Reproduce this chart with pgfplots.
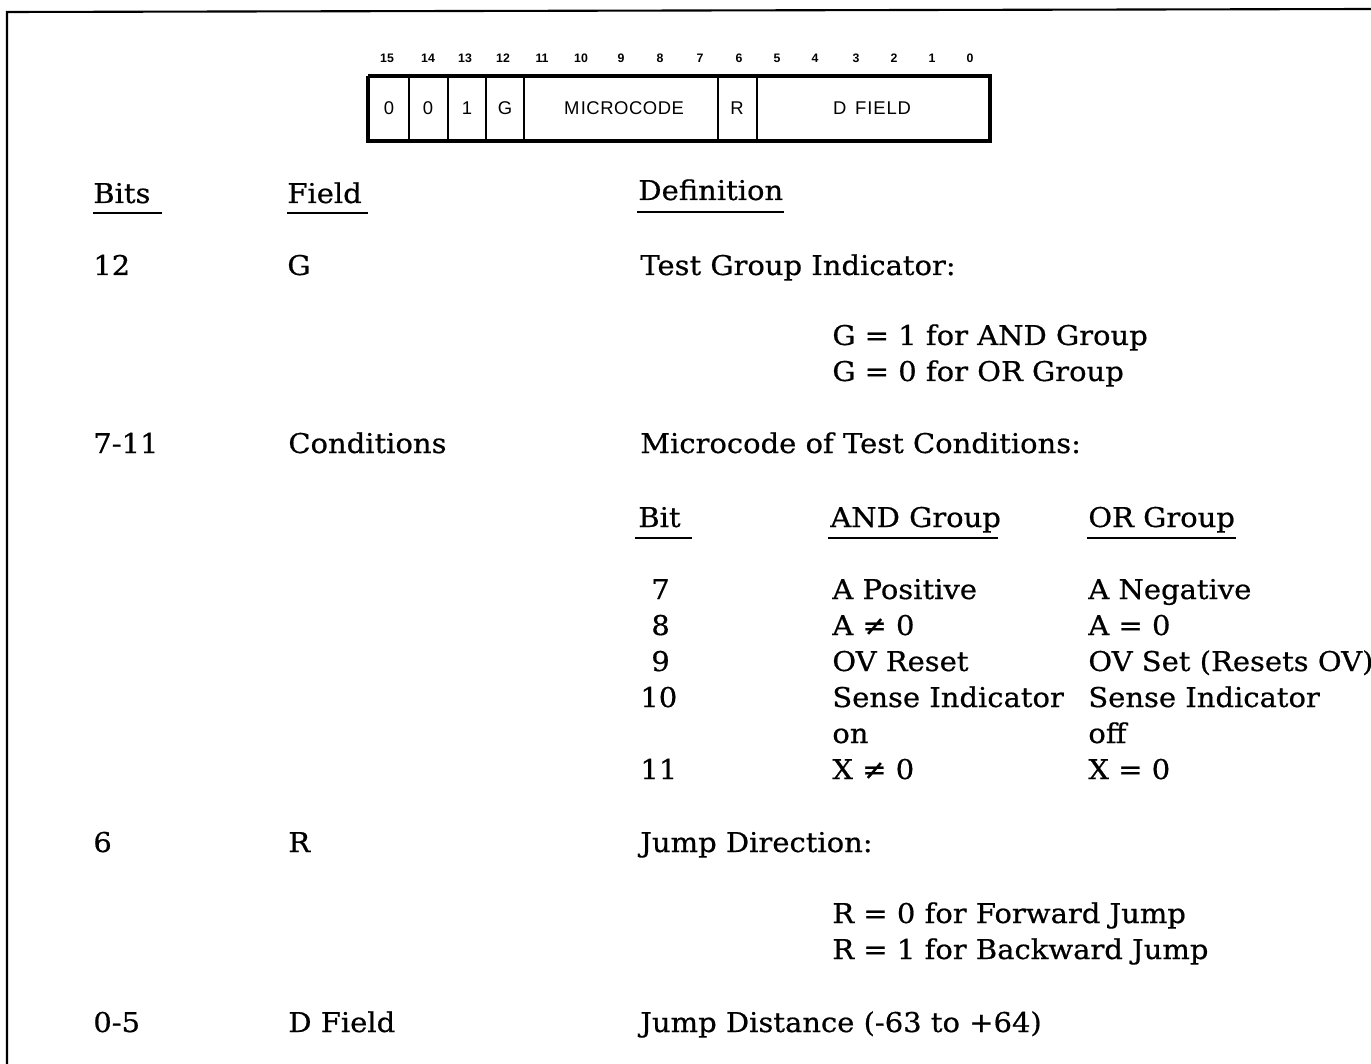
\documentclass[border=0pt]{standalone}
\usepackage{pgfplots}
\pgfplotsset{compat=1.18}
\usepackage{fontspec}
\setmainfont{DejaVu Serif}[FakeStretch=1.065, FakeBold=0.6]
\newfontfamily\boxfont{Liberation Sans}
\begin{document}
\begin{tikzpicture}[font=\fontsize{15.5}{18}\selectfont]
\begin{axis}[scale only axis, width=27.42cm, height=21.28cm,
  xmin=0, xmax=1371, ymin=0, ymax=1064, y dir=reverse, hide axis, clip=false]
% frame
\addplot[black, line width=1.2pt] coordinates {(7,1064) (7,12) (1371,9)};
% register box
\addplot[black, line width=1.8pt] coordinates {(368,76) (990,76) (990,141) (368,141) (368,76)};
\addplot[black, line width=1.1pt] coordinates {(409,76) (409,141)};
\addplot[black, line width=1.1pt] coordinates {(448,76) (448,141)};
\addplot[black, line width=1.1pt] coordinates {(486,76) (486,141)};
\addplot[black, line width=1.7pt] coordinates {(524,76) (524,141)};
\addplot[black, line width=1.1pt] coordinates {(718,76) (718,141)};
\addplot[black, line width=1.1pt] coordinates {(757,76) (757,141)};
% underlines
\addplot[black, line width=1.1pt] coordinates {(93,213) (162,213)};
\addplot[black, line width=1.1pt] coordinates {(287,213) (368,213)};
\addplot[black, line width=1.1pt] coordinates {(637,212) (784,212)};
\addplot[black, line width=1.1pt] coordinates {(635,538) (692,538)};
\addplot[black, line width=1.1pt] coordinates {(828,538) (998,538)};
\addplot[black, line width=1.1pt] coordinates {(1087,538) (1236,538)};
% bit numbers
\begin{scope}[every node/.style={font=\boxfont\bfseries\fontsize{7}{8}\selectfont, inner sep=0}]
\node at (axis cs:387,58) {15};
\node at (axis cs:428,58) {14};
\node at (axis cs:465,58) {13};
\node at (axis cs:503,58) {12};
\node at (axis cs:542,58) {11};
\node at (axis cs:581,58) {10};
\node at (axis cs:621,58) {9};
\node at (axis cs:660,58) {8};
\node at (axis cs:700,58) {7};
\node at (axis cs:739,58) {6};
\node at (axis cs:777,58) {5};
\node at (axis cs:815,58) {4};
\node at (axis cs:856,58) {3};
\node at (axis cs:894,58) {2};
\node at (axis cs:932,58) {1};
\node at (axis cs:970,58) {0};
\end{scope}
\begin{scope}[every node/.style={font=\boxfont\fontsize{10.5}{12}\selectfont, inner sep=0}]
\node at (axis cs:389,108) {0};
\node at (axis cs:428,108) {0};
\node at (axis cs:467,108) {1};
\node at (axis cs:505,108) {G};
\node at (axis cs:624,108) {M\kern.8pt I\kern.3pt C\kern.3pt R\kern.3pt O\kern.3pt C\kern.3pt O\kern.3pt D\kern.3pt E};
\node at (axis cs:737,108) {R};
\node at (axis cs:872,108) {D\hspace{5pt}F\kern.5pt I\kern.5pt E\kern.5pt L\kern.5pt D};
\end{scope}
\begin{scope}[every node/.style={anchor=base west, inner sep=0}]
\node at (axis cs:93,203) {Bits};
\node at (axis cs:287,203) {Field};
\node at (axis cs:638,200) {Definition};
\node at (axis cs:93,275) {12};
\node at (axis cs:287,275) {G};
\node at (axis cs:640,275) {Test Group Indicator:};
\node at (axis cs:832,345) {G = 1 for AND Group};
\node at (axis cs:832,381) {G = 0 for OR Group};
\node at (axis cs:93,453) {7-11};
\node at (axis cs:288,453) {Conditions};
\node at (axis cs:640,453) {Microcode of Test Conditions:};
\node at (axis cs:638,527) {Bit};
\node at (axis cs:830,527) {AND Group};
\node at (axis cs:1088,527) {OR Group};
\node at (axis cs:832,599) {A Positive};
\node at (axis cs:1088,599) {A Negative};
\node at (axis cs:832,635) {A ≠ 0};
\node at (axis cs:1088,635) {A = 0};
\node at (axis cs:832,671) {OV Reset};
\node at (axis cs:1088,671) {OV Set (Resets OV)};
\node at (axis cs:832,707) {Sense Indicator};
\node at (axis cs:1088,707) {Sense Indicator};
\node at (axis cs:832,743) {on};
\node at (axis cs:1088,743) {off};
\node at (axis cs:832,779) {X ≠ 0};
\node at (axis cs:1088,779) {X = 0};
\node at (axis cs:93,852) {6};
\node at (axis cs:288,852) {R};
\node at (axis cs:640,852) {Jump Direction:};
\node at (axis cs:832,923) {R = 0 for Forward Jump};
\node at (axis cs:832,959) {R = 1 for Backward Jump};
\node at (axis cs:93,1032) {0-5};
\node at (axis cs:288,1032) {D Field};
\node at (axis cs:640,1032) {Jump Distance (-63 to +64)};
\node at (axis cs:651,599) {7};
\node at (axis cs:651,635) {8};
\node at (axis cs:651,671) {9};
\node at (axis cs:640,707) {10};
\node at (axis cs:640,779) {11};
\end{scope}
\end{axis}
\pgfresetboundingbox
\path[use as bounding box] (0,0) rectangle (27.42cm,21.28cm);
\end{tikzpicture}
\end{document}
